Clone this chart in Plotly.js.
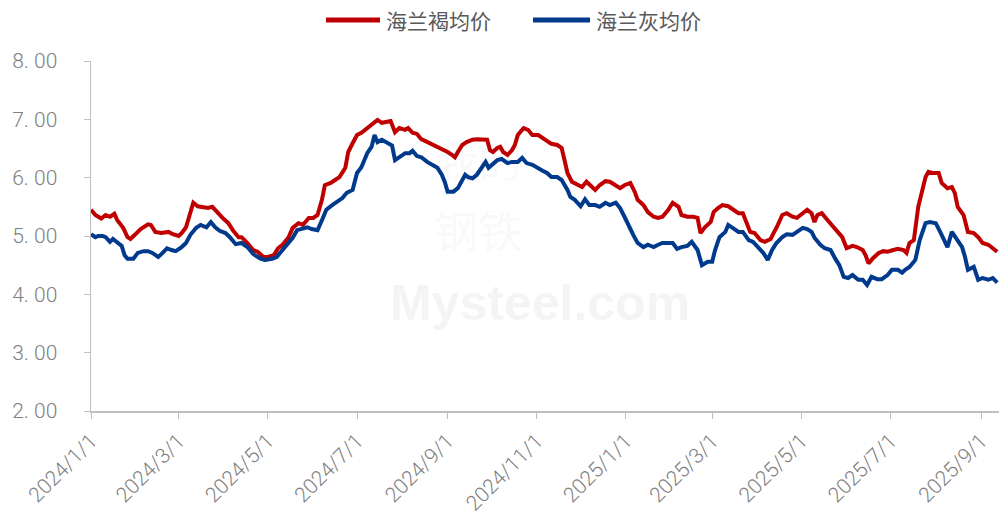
<!DOCTYPE html>
<html>
<head>
<meta charset="utf-8">
<script src="https://cdn.plot.ly/plotly-3.0.1.min.js"></script>
<style>html,body{margin:0;padding:0;background:#fff;}#chart{width:999px;height:515px;}</style>
</head>
<body>
<div id="chart"></div>
<script>
const brownDates = ["2024-01-01","2024-01-04","2024-01-08","2024-01-11","2024-01-14","2024-01-17","2024-01-19","2024-01-23","2024-01-26","2024-01-28","2024-01-31",
"2024-02-04","2024-02-09","2024-02-11","2024-02-14","2024-02-18","2024-02-23","2024-02-26",
"2024-03-01","2024-03-03","2024-03-06","2024-03-09","2024-03-11","2024-03-14","2024-03-18","2024-03-21","2024-03-24","2024-03-28","2024-03-31",
"2024-04-04","2024-04-07","2024-04-11","2024-04-13","2024-04-17","2024-04-21","2024-04-24","2024-04-28",
"2024-05-01","2024-05-05","2024-05-08","2024-05-11","2024-05-15","2024-05-18","2024-05-22","2024-05-25","2024-05-29",
"2024-06-01","2024-06-04","2024-06-07","2024-06-09","2024-06-13","2024-06-16","2024-06-19","2024-06-23","2024-06-25","2024-06-28",
"2024-07-01","2024-07-04","2024-07-08","2024-07-11","2024-07-15","2024-07-18","2024-07-22","2024-07-24","2024-07-27","2024-07-30",
"2024-08-03","2024-08-05","2024-08-08","2024-08-11","2024-08-14","2024-08-18","2024-08-21","2024-08-25","2024-08-28",
"2024-09-01","2024-09-04","2024-09-06","2024-09-08","2024-09-11","2024-09-14","2024-09-18","2024-09-21","2024-09-25","2024-09-28","2024-09-30",
"2024-10-02","2024-10-05","2024-10-07","2024-10-09","2024-10-12","2024-10-15","2024-10-17","2024-10-19","2024-10-23","2024-10-26","2024-10-29",
"2024-11-02","2024-11-05","2024-11-08","2024-11-11","2024-11-15","2024-11-18","2024-11-20","2024-11-22","2024-11-25","2024-11-29",
"2024-12-02","2024-12-05","2024-12-09","2024-12-11","2024-12-14","2024-12-18","2024-12-21","2024-12-25","2024-12-28","2024-12-31",
"2025-01-04","2025-01-07","2025-01-09","2025-01-13","2025-01-16","2025-01-20","2025-01-23","2025-01-26","2025-01-30",
"2025-02-02","2025-02-06","2025-02-08","2025-02-12","2025-02-16","2025-02-19","2025-02-21","2025-02-24","2025-02-28",
"2025-03-02","2025-03-05","2025-03-08","2025-03-12","2025-03-15","2025-03-19","2025-03-22","2025-03-25","2025-03-27","2025-03-30",
"2025-04-03","2025-04-06","2025-04-10","2025-04-12","2025-04-14","2025-04-18","2025-04-21","2025-04-25","2025-04-28",
"2025-05-02","2025-05-05","2025-05-08","2025-05-10","2025-05-12","2025-05-15","2025-05-19","2025-05-22","2025-05-25","2025-05-29",
"2025-06-01","2025-06-05","2025-06-08","2025-06-12","2025-06-14","2025-06-16","2025-06-19","2025-06-23","2025-06-26","2025-06-29",
"2025-07-03","2025-07-06","2025-07-10","2025-07-12","2025-07-14","2025-07-17","2025-07-20","2025-07-23","2025-07-25","2025-07-27","2025-07-30",
"2025-08-03","2025-08-05","2025-08-09","2025-08-12","2025-08-14","2025-08-16","2025-08-20","2025-08-23","2025-08-27","2025-08-30",
"2025-09-02","2025-09-06","2025-09-09","2025-09-12"];
const brownPrice = [5.45,5.36,5.30,5.36,5.33,5.38,5.27,5.14,4.98,4.95,5.02,
5.12,5.20,5.19,5.07,5.05,5.07,5.03,
5.00,5.05,5.15,5.39,5.57,5.51,5.50,5.48,5.50,5.38,5.31,
5.22,5.10,4.98,4.98,4.88,4.76,4.73,4.64,
4.64,4.67,4.79,4.85,4.97,5.14,5.22,5.19,5.31,
5.31,5.36,5.62,5.87,5.91,5.96,6.01,6.17,6.44,6.59,
6.73,6.77,6.85,6.90,6.99,6.94,6.96,6.97,6.78,6.85,
6.82,6.85,6.77,6.75,6.66,6.61,6.59,6.53,6.49,
6.44,6.39,6.35,6.44,6.56,6.61,6.65,6.66,6.65,6.65,6.47,
6.44,6.51,6.53,6.44,6.39,6.47,6.56,6.73,6.85,6.82,6.73,
6.73,6.68,6.61,6.58,6.56,6.51,6.30,6.08,5.93,5.87,
5.84,5.93,5.82,5.79,5.87,5.94,5.93,5.87,5.82,5.87,
5.91,5.76,5.62,5.53,5.41,5.33,5.31,5.33,5.45,
5.57,5.50,5.36,5.33,5.33,5.31,5.05,5.15,5.24,
5.41,5.48,5.53,5.51,5.45,5.39,5.39,5.22,5.07,5.05,
4.93,4.90,4.95,5.05,5.14,5.36,5.39,5.33,5.31,
5.39,5.45,5.39,5.24,5.36,5.39,5.27,5.19,5.10,4.98,
4.79,4.83,4.81,4.76,4.67,4.53,4.62,4.71,4.74,4.73,
4.76,4.78,4.76,4.71,4.88,4.93,5.50,5.82,6.01,6.10,6.08,
6.08,5.91,5.82,5.84,5.74,5.50,5.36,5.07,5.05,4.98,
4.88,4.85,4.79,4.73];

const greyDates = ["2024-01-01","2024-01-04","2024-01-06","2024-01-09","2024-01-11","2024-01-14","2024-01-16","2024-01-19","2024-01-22","2024-01-24","2024-01-26","2024-01-30",
"2024-02-02","2024-02-06","2024-02-09","2024-02-12","2024-02-16","2024-02-19","2024-02-22","2024-02-25","2024-02-28",
"2024-03-03","2024-03-06","2024-03-09","2024-03-13","2024-03-16","2024-03-20","2024-03-23","2024-03-26","2024-03-29",
"2024-04-02","2024-04-05","2024-04-09","2024-04-13","2024-04-17","2024-04-21","2024-04-26","2024-04-29",
"2024-05-04","2024-05-07","2024-05-11","2024-05-14","2024-05-18","2024-05-21","2024-05-24","2024-05-28","2024-05-31",
"2024-06-04","2024-06-07","2024-06-10","2024-06-14","2024-06-17","2024-06-21","2024-06-24","2024-06-28",
"2024-07-01","2024-07-04","2024-07-08","2024-07-11","2024-07-13","2024-07-15","2024-07-18","2024-07-22","2024-07-25","2024-07-27","2024-07-30",
"2024-08-03","2024-08-06","2024-08-08","2024-08-11","2024-08-14","2024-08-18","2024-08-21","2024-08-25","2024-08-28","2024-08-30",
"2024-09-01","2024-09-05","2024-09-08","2024-09-11","2024-09-13","2024-09-15","2024-09-18","2024-09-21","2024-09-25","2024-09-27","2024-09-29",
"2024-10-01","2024-10-05","2024-10-08","2024-10-12","2024-10-15","2024-10-19","2024-10-22","2024-10-25","2024-10-29",
"2024-11-01","2024-11-05","2024-11-08","2024-11-11","2024-11-15","2024-11-18","2024-11-22","2024-11-24","2024-11-27",
"2024-12-01","2024-12-04","2024-12-07","2024-12-11","2024-12-14","2024-12-18","2024-12-21","2024-12-25","2024-12-28","2024-12-31",
"2025-01-02","2025-01-06","2025-01-09","2025-01-13","2025-01-16","2025-01-20","2025-01-23","2025-01-26","2025-01-30",
"2025-02-02","2025-02-05","2025-02-08","2025-02-12","2025-02-15","2025-02-19","2025-02-22","2025-02-26",
"2025-03-01","2025-03-03","2025-03-06","2025-03-10","2025-03-12","2025-03-15","2025-03-19","2025-03-22","2025-03-26","2025-03-29",
"2025-04-01","2025-04-05","2025-04-08","2025-04-11","2025-04-14","2025-04-18","2025-04-21","2025-04-25","2025-04-28",
"2025-05-02","2025-05-05","2025-05-08","2025-05-10","2025-05-14","2025-05-17","2025-05-21","2025-05-24","2025-05-27","2025-05-30",
"2025-06-02","2025-06-05","2025-06-09","2025-06-12","2025-06-15","2025-06-18","2025-06-22","2025-06-25","2025-06-29",
"2025-07-02","2025-07-06","2025-07-09","2025-07-11","2025-07-14","2025-07-18","2025-07-21","2025-07-25","2025-07-28",
"2025-08-01","2025-08-04","2025-08-06","2025-08-09","2025-08-12","2025-08-16","2025-08-19","2025-08-21","2025-08-23","2025-08-27","2025-08-30",
"2025-09-02","2025-09-06","2025-09-09","2025-09-12"];
const greyPrice = [5.03,4.98,5.00,5.00,4.98,4.90,4.95,4.88,4.83,4.67,4.61,4.61,
4.71,4.74,4.74,4.71,4.64,4.71,4.79,4.76,4.74,
4.81,4.88,5.02,5.14,5.19,5.15,5.24,5.15,5.09,
5.05,4.98,4.86,4.88,4.81,4.69,4.61,4.59,
4.61,4.64,4.76,4.85,4.97,5.10,5.12,5.15,5.12,
5.10,5.27,5.45,5.53,5.58,5.65,5.74,5.79,
6.08,6.18,6.42,6.53,6.73,6.61,6.65,6.59,6.55,6.30,6.35,
6.42,6.42,6.46,6.37,6.35,6.27,6.22,6.17,6.05,5.93,
5.76,5.76,5.82,5.96,6.05,6.01,5.99,6.05,6.18,6.27,6.17,
6.22,6.30,6.32,6.25,6.27,6.27,6.34,6.25,6.22,
6.17,6.12,6.08,6.01,6.01,5.96,5.79,5.67,5.62,
5.51,5.63,5.53,5.53,5.50,5.57,5.53,5.57,5.48,5.33,
5.22,5.02,4.88,4.81,4.85,4.81,4.85,4.88,4.88,
4.88,4.78,4.81,4.83,4.90,4.76,4.50,4.56,
4.56,4.76,4.98,5.07,5.19,5.14,5.07,5.07,4.93,4.90,
4.81,4.71,4.59,4.76,4.88,4.98,5.03,5.02,5.07,
5.14,5.12,5.07,4.97,4.85,4.79,4.76,4.62,4.50,4.30,
4.28,4.33,4.25,4.25,4.16,4.30,4.26,4.26,4.33,
4.42,4.42,4.37,4.42,4.47,4.59,4.93,5.22,5.24,
5.22,5.07,4.97,4.81,5.07,4.93,4.81,4.64,4.42,4.47,4.25,
4.28,4.25,4.28,4.20];

const seriesNames = ["海兰褐均价","海兰灰均价"];
const seriesColors = ['#C00000', '#003A8C'];
const yTickVals = [2,3,4,5,6,7,8];
const yTickText = ["2. 00","3. 00","4. 00","5. 00","6. 00","7. 00","8. 00"];
const xTickVals = ["2024-01-01","2024-03-01","2024-05-01","2024-07-01","2024-09-01","2024-11-01","2025-01-01","2025-03-01","2025-05-01","2025-07-01","2025-09-01"];
const xTickText = ["2024/1/1","2024/3/1","2024/5/1","2024/7/1","2024/9/1","2024/11/1","2025/1/1","2025/3/1","2025/5/1","2025/7/1","2025/9/1"];

const TICKFONT = 'Roboto, "Noto Sans", sans-serif';
const CJK = '"Noto Sans CJK SC", sans-serif';
const traces = [
  {x: brownDates, y: brownPrice, name: seriesNames[0], type: 'scatter', mode: 'lines',
   line: {color: seriesColors[0], width: 4}},
  {x: greyDates, y: greyPrice, name: seriesNames[1], type: 'scatter', mode: 'lines',
   line: {color: seriesColors[1], width: 4}}
];

// custom legend (line swatch + label) above the plot
const legendY = 1.117;
const legendItems = [
  {x0: 0.2588, x1: 0.3183, tx: 0.3227},
  {x0: 0.4868, x1: 0.5496, tx: 0.5540}
];
const shapes = legendItems.map((it, i) => ({
  type: 'line', xref: 'paper', yref: 'paper', x0: it.x0, x1: it.x1, y0: legendY, y1: legendY,
  line: {color: seriesColors[i], width: 5}
}));
const annotations = legendItems.map((it, i) => ({
  text: seriesNames[i], xref: 'paper', yref: 'paper', x: it.tx, y: legendY,
  xanchor: 'left', yanchor: 'middle', showarrow: false,
  font: {size: 21, color: '#595959', family: CJK}
}));
annotations.push(
  {text: '我的', xref: 'paper', yref: 'paper', x: 0.426, y: 0.72, xanchor: 'center', yanchor: 'middle', showarrow: false,
   font: {size: 44, color: 'rgba(60,70,150,0.05)', family: CJK}},
  {text: '钢铁', xref: 'paper', yref: 'paper', x: 0.426, y: 0.52, xanchor: 'center', yanchor: 'middle', showarrow: false,
   font: {size: 44, color: 'rgba(60,70,150,0.05)', family: CJK}},
  {text: '<b>Mysteel.com</b>', xref: 'paper', yref: 'paper', x: 0.495, y: 0.31, xanchor: 'center', yanchor: 'middle', showarrow: false,
   font: {size: 50, color: 'rgba(0,0,0,0.045)', family: '"Liberation Sans", Arial, sans-serif'}}
);

const layout = {
  width: 999, height: 515,
  margin: {l: 91, r: 0, t: 61, b: 104},
  paper_bgcolor: '#fff', plot_bgcolor: '#fff',
  font: {family: TICKFONT, color: '#7F7F7F'},
  showlegend: false,
  shapes: shapes,
  annotations: annotations,
  xaxis: {type: 'date', range: ['2024-01-01', '2025-09-13 06:00'],
          tickvals: xTickVals, ticktext: xTickText, tickangle: -45,
          tickfont: {size: 21, color: '#808080', family: TICKFONT, weight: 300},
          ticklabelstandoff: 2,
          showline: true, linecolor: '#BFBFBF', linewidth: 1.5,
          ticks: 'outside', ticklen: 6, tickcolor: '#BFBFBF', showgrid: false, zeroline: false},
  yaxis: {range: [2, 8], tickvals: yTickVals, ticktext: yTickText,
          tickfont: {size: 21, color: '#808080', family: TICKFONT, weight: 300},
          ticklabelstandoff: 22,
          showline: true, linecolor: '#BFBFBF', linewidth: 1.5,
          ticks: 'outside', ticklen: 6, tickcolor: '#BFBFBF', showgrid: false, zeroline: false}
};
Plotly.newPlot('chart', traces, layout, {displayModeBar: false, staticPlot: true});
</script>
</body>
</html>
